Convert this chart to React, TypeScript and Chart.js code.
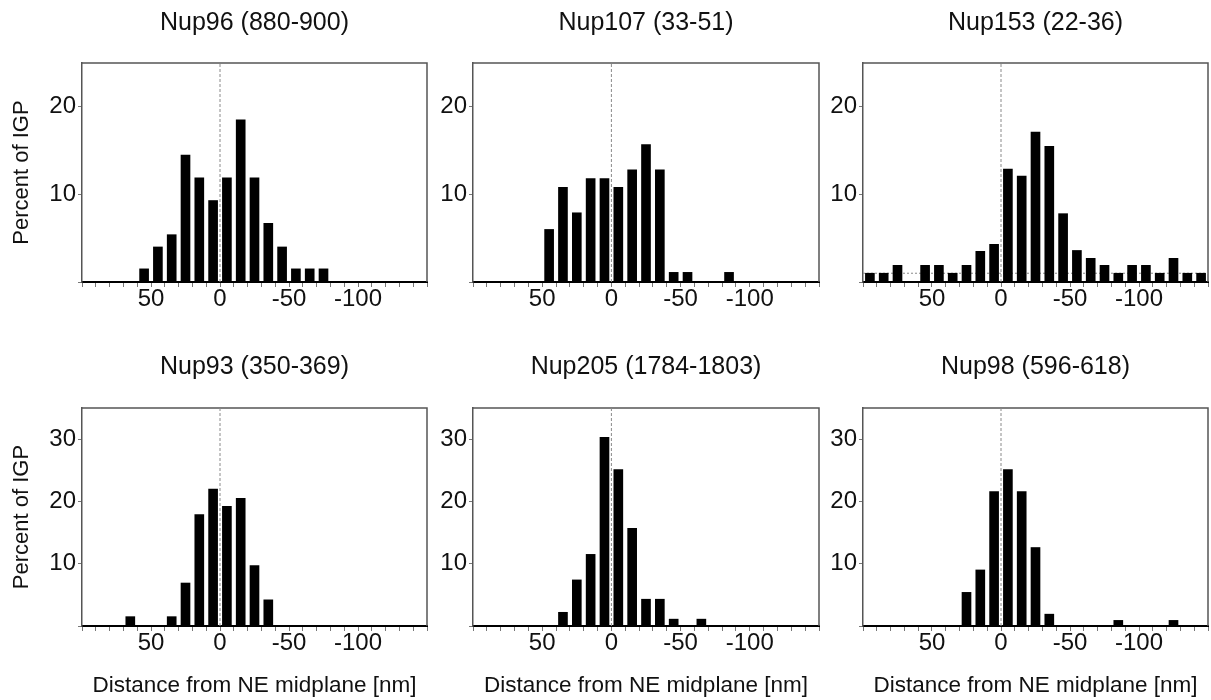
import React, { useEffect, useRef } from "react";
import { Chart, registerables } from "chart.js";

Chart.register(...registerables);

// Bin centres (nm from NE midplane), positive = left side of axis
const BINS = [95, 85, 75, 65, 55, 45, 35, 25, 15, 5, -5, -15, -25, -35, -45, -55, -65, -75, -85, -95, -105, -115, -125, -135, -145];

// Percent of IGP per bin
const NUP96 = [0, 0, 0, 0, 1.5, 4.0, 5.4, 14.5, 11.9, 9.3, 11.9, 18.5, 11.9, 6.7, 4.0, 1.5, 1.5, 1.5, 0, 0, 0, 0, 0, 0, 0];
const NUP107 = [0, 0, 0, 0, 0, 6.0, 10.8, 7.9, 11.8, 11.8, 10.8, 12.8, 15.7, 12.8, 1.1, 1.1, 0, 0, 1.1, 0, 0, 0, 0, 0, 0];
const NUP153 = [1.0, 1.0, 1.9, 0, 1.9, 1.9, 1.0, 1.9, 3.5, 4.3, 12.9, 12.1, 17.1, 15.5, 7.8, 3.6, 2.7, 1.9, 1.0, 1.9, 1.9, 1.0, 2.7, 1.0, 1.0];
const NUP93 = [0, 0, 0, 1.5, 0, 0, 1.5, 6.9, 17.9, 22.0, 19.2, 20.5, 9.7, 4.2, 0, 0, 0, 0, 0, 0, 0, 0, 0, 0, 0];
const NUP205 = [0, 0, 0, 0, 0, 0, 2.2, 7.4, 11.5, 30.3, 25.1, 15.7, 4.3, 4.3, 1.1, 0, 1.1, 0, 0, 0, 0, 0, 0, 0, 0];
const NUP98 = [0, 0, 0, 0, 0, 0, 0, 5.4, 9.0, 21.6, 25.1, 21.6, 12.6, 1.9, 0, 0, 0, 0, 0.9, 0, 0, 0, 0.9, 0, 0];

const TITLES = ["Nup96 (880-900)", "Nup107 (33-51)", "Nup153 (22-36)", "Nup93 (350-369)", "Nup205 (1784-1803)", "Nup98 (596-618)"];
const SERIES = [NUP96, NUP107, NUP153, NUP93, NUP205, NUP98];
const Y_MAX_TOP = 25;
const Y_MAX_BOTTOM = 35;
const X_MIN = -150;
const X_MAX = 100;
const X_LABELS = [50, 0, -50, -100];
const NUP153_LEVEL = 1;

const Y_TITLE = "Percent of IGP";
const X_TITLE = "Distance from NE midplane [nm]";

const FONT = "'Liberation Sans', Arial, Helvetica, sans-serif";

// layout geometry (page pixels)
const COLS = [
  { left: 0, right: 432, plotLeft: 82, plotRight: 427 },
  { left: 432, right: 825, plotLeft: 473, plotRight: 819 },
  { left: 825, right: 1211, plotLeft: 863, plotRight: 1208 },
];
const ROWS = [
  { top: 0, bottom: 330, plotTop: 63, plotBottom: 282, titleCenter: 23 },
  { top: 330, bottom: 700, plotTop: 408, plotBottom: 626, titleCenter: 367 },
];

const framePlugin = {
  id: "frame",
  beforeDatasetsDraw(chart: any) {
    const { ctx, chartArea } = chart;
    ctx.save();
    ctx.strokeStyle = "#555";
    ctx.lineWidth = 1.5;
    ctx.beginPath();
    ctx.moveTo(chartArea.left, chartArea.top);
    ctx.lineTo(chartArea.right, chartArea.top);
    ctx.lineTo(chartArea.right, chartArea.bottom);
    ctx.stroke();
    ctx.restore();
  },
};

function PanelChart({ idx }: { idx: number }) {
  const ref = useRef<HTMLCanvasElement | null>(null);
  const row = Math.floor(idx / 3);
  const col = idx % 3;
  const C = COLS[col];
  const R = ROWS[row];
  const width = C.right - C.left;
  const height = R.bottom - R.top;

  useEffect(() => {
    if (!ref.current) return;
    const yMax = row === 0 ? Y_MAX_TOP : Y_MAX_BOTTOM;
    const values = SERIES[idx];
    const titleSize = 25;
    const titleLH = titleSize * 1.2;
    const titleCenter = R.titleCenter - R.top;
    const padTop = titleCenter - titleLH / 2;
    const padBottom = R.plotTop - R.top - padTop - titleLH;

    const datasets: any[] = [
      {
        type: "bar",
        data: BINS.map((x, i) => ({ x, y: values[i] })),
        backgroundColor: "#000",
        borderWidth: 0,
        barThickness: 9,
        order: 0,
      },
      {
        type: "line",
        data: [
          { x: 0, y: 0 },
          { x: 0, y: yMax },
        ],
        borderColor: "#8a8a8a",
        borderWidth: 1,
        borderDash: [3, 2],
        pointRadius: 0,
        order: 1,
      },
    ];
    if (idx === 2) {
      datasets.push({
        type: "line",
        data: [
          { x: X_MAX, y: NUP153_LEVEL },
          { x: X_MIN, y: NUP153_LEVEL },
        ],
        borderColor: "#8a8a8a",
        borderWidth: 1,
        borderDash: [2, 2],
        pointRadius: 0,
        order: 2,
      });
    }

    const chart = new Chart(ref.current, {
      type: "bar",
      data: { datasets },
      plugins: [framePlugin],
      options: {
        animation: false,
        responsive: false,
        devicePixelRatio: 1,
        layout: { padding: { left: 0, right: C.right - C.plotRight, top: 0, bottom: 0 } },
        plugins: {
          legend: { display: false },
          tooltip: { enabled: false },
          title: {
            display: true,
            fullSize: false,
            text: TITLES[idx],
            color: "#111",
            font: { family: FONT, size: titleSize, weight: "normal", lineHeight: 1.2 },
            padding: { top: padTop, bottom: padBottom },
          },
        },
        scales: {
          x: {
            type: "linear",
            min: X_MIN,
            max: X_MAX,
            reverse: true,
            offset: false,
            afterFit: (s: any) => {
              s.height = R.bottom - R.plotBottom;
            },
            grid: {
              offset: false,
              drawOnChartArea: false,
              drawTicks: true,
              tickLength: 5,
              color: "#777",
              lineWidth: 1,
            },
            border: { display: true, color: "#000", width: 2 },
            ticks: {
              stepSize: 10,
              autoSkip: false,
              maxRotation: 0,
              minRotation: 0,
              padding: -2,
              color: "#111",
              font: { family: FONT, size: 24 },
              callback: (v: any) => (X_LABELS.includes(Number(v)) ? String(v) : ""),
            },
            title: {
              display: row === 1,
              text: X_TITLE,
              color: "#111",
              font: { family: FONT, size: 22.5 },
              padding: { top: 0, bottom: 1 },
            },
          },
          y: {
            type: "linear",
            min: 0,
            max: yMax,
            afterFit: (s: any) => {
              s.width = C.plotLeft - C.left;
            },
            grid: {
              drawOnChartArea: false,
              drawTicks: true,
              tickLength: 4,
              color: "#777",
            },
            border: { display: true, color: "#555", width: 1.5 },
            ticks: {
              stepSize: 10,
              includeBounds: false,
              padding: 2,
              color: "#111",
              font: { family: FONT, size: 24 },
              callback: (v: any) => (Number(v) === 0 ? "" : String(v)),
            },
            title: {
              display: col === 0,
              text: Y_TITLE,
              color: "#111",
              font: { family: FONT, size: 22 },
              padding: { top: 9, bottom: 0 },
            },
          },
        },
      } as any,
    });
    return () => chart.destroy();
  }, [idx]);

  return (
    <canvas
      ref={ref}
      width={width}
      height={height}
      style={{ position: "absolute", left: C.left, top: R.top, width, height }}
    />
  );
}

export default function App() {
  return (
    <div
      style={{
        position: "absolute",
        left: 0,
        top: 0,
        width: 1211,
        height: 700,
        overflow: "hidden",
        background: "#fff",
      }}
    >
      {[0, 1, 2, 3, 4, 5].map((i) => (
        <PanelChart key={i} idx={i} />
      ))}
    </div>
  );
}
